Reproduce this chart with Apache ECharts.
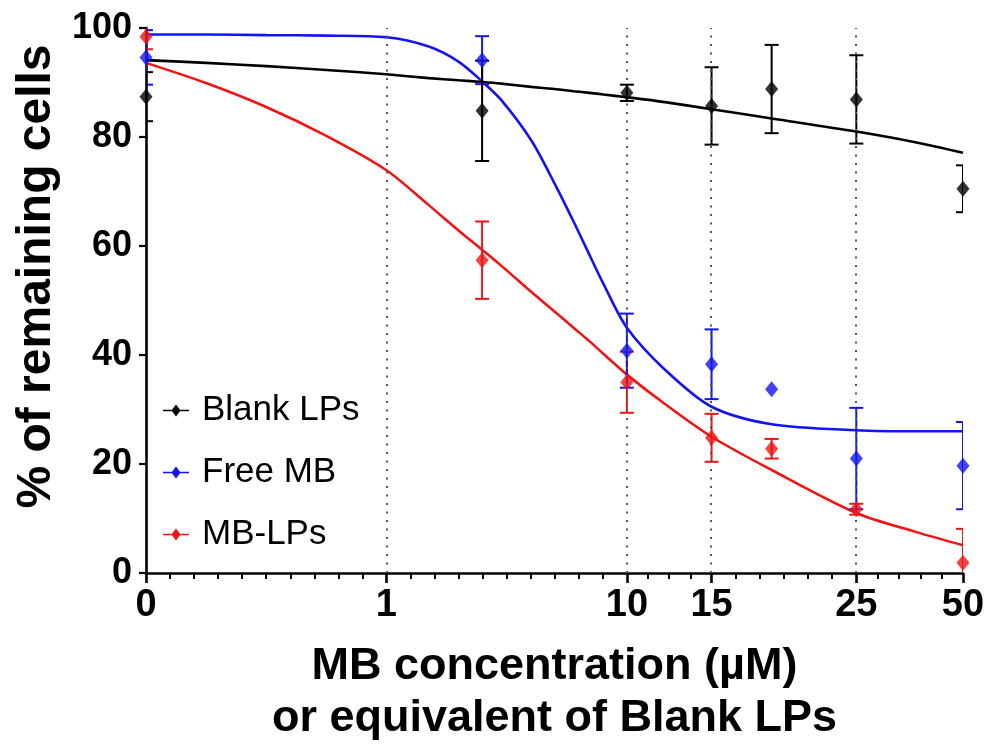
<!DOCTYPE html>
<html>
<head>
<meta charset="utf-8">
<script src="https://cdn.jsdelivr.net/npm/echarts@6/dist/echarts.min.js"></script>
<style>
html,body{margin:0;padding:0;background:#fff;}
#chart{width:989px;height:746px;}
</style>
</head>
<body>
<div id="chart"></div>
<script>
// ---------- data ----------
// Doses as placed on the segmented axis (the point under the "25" tick sits at the 30 position)
const doses = [0, 2.5, 10, 15, 20, 30, 50];
const blankMean = [87.4, 84.8, 88.1, 85.7, 88.8, 86.9, 70.5];
const blankSd   = [4.5, 9.2, 1.5, 7.1, 8.1, 8.1, 4.3];
const freeMean  = [94.6, 94.1, 40.8, 38.3, 33.7, 21.0, 19.7];
const freeSd    = [5.0, 4.4, 6.8, 6.4, null, 9.3, 8.0];
const lpMean    = [98.4, 57.4, 35.0, 24.8, 22.8, 11.7, 1.9];
const lpSd      = [2.3, 7.1, 5.6, 4.4, 1.8, 1.0, 6.2];

// fitted curves
const fitConc  = [0, 0.25, 0.5, 0.75, 1, 1.5, 2, 2.5, 3, 4, 5, 6, 7, 8, 10, 12, 15, 20, 30, 40, 50];
const blankFit = [94.1, 93.6, 93.0, 92.3, 91.5, 90.8, 90.4, 90.1, 89.8, 89.2, 88.8, 88.4, 88.1, 87.8, 87.3, 86.4, 85.1, 83.4, 81.0, 79.0, 77.1];
const freeFit  = [98.8, 98.8, 98.7, 98.6, 98.3, 96.6, 93.8, 90.2, 86.8, 79.4, 71.5, 64.5, 58.3, 53.0, 45.0, 37.3, 30.5, 27.3, 26.2, 26.0, 26.0];
const lpFit    = [93.6, 89.9, 85.5, 80.2, 73.9, 67.5, 62.8, 59.3, 56.4, 51.6, 48.0, 45.0, 42.5, 40.2, 36.4, 31.0, 25.0, 18.9, 11.0, 7.5, 5.1];

// x-axis ticks
const tickConc   = [0, 1, 10, 15, 30, 50];
const tickLabels = ['0', '1', '10', '15', '25', '50'];
const minorPerSegment = [10, 10, 4, 6, 5];

const seriesNames = ['Blank LPs', 'Free MB', 'MB-LPs'];
const colors = ['#000000', '#1414f0', '#f01414'];

// ---------- segmented axis scale ----------
function toU(c) {
  if (c <= 1) return c - 1;              // linear segment 0..1
  if (c <= 10) return Math.log10(c);      // log segment 1..10
  return 1 + 2 * Math.log10(c / 10);      // stretched log segment 10..50
}
const majorU = tickConc.map(toU);
const minorU = [];
for (let i = 0; i < majorU.length - 1; i++) {
  const n = minorPerSegment[i];
  for (let k = 1; k < n; k++) minorU.push(majorU[i] + (majorU[i + 1] - majorU[i]) * k / n);
}

const means = [blankMean, freeMean, lpMean];
const sds = [blankSd, freeSd, lpSd];
const fits = [blankFit, freeFit, lpFit];

const FONT = 'Liberation Sans';
const legendIcon = 'path://M0,5.3 L9,5.3 L13,0 L17,5.3 L26,5.3 L26,6.7 L17,6.7 L13,12 L9,6.7 L0,6.7 Z';

const series = [];
const order = [2, 1, 0];
order.forEach(i => {
  series.push({
    name: seriesNames[i],
    type: 'line',
    smooth: 0.3,
    showSymbol: false,
    symbol: 'diamond',
    data: fitConc.map((c, j) => [toU(c), fits[i][j]]),
    lineStyle: { width: 2.6, color: colors[i] },
    itemStyle: { color: colors[i] },
    z: 3,
    silent: true
  });
});
order.forEach(i => {
  const eb = [];
  doses.forEach((d, j) => {
    if (sds[i][j] != null) eb.push([toU(d), means[i][j] - sds[i][j], means[i][j] + sds[i][j]]);
  });
  series.push({
    type: 'custom',
    name: seriesNames[i] + ' err',
    clip: true,
    z: 4,
    silent: true,
    data: eb,
    encode: { x: 0, y: [1, 2] },
    renderItem: function (params, api) {
      const x = api.value(0);
      const lo = api.coord([x, api.value(1)]);
      const hi = api.coord([x, api.value(2)]);
      const w = 7;
      const st = { stroke: colors[i], lineWidth: 2 };
      return {
        type: 'group',
        children: [
          { type: 'line', shape: { x1: lo[0], y1: lo[1], x2: hi[0], y2: hi[1] }, style: st },
          { type: 'line', shape: { x1: hi[0] - w, y1: hi[1], x2: hi[0] + w, y2: hi[1] }, style: st },
          { type: 'line', shape: { x1: lo[0] - w, y1: lo[1], x2: lo[0] + w, y2: lo[1] }, style: st }
        ]
      };
    }
  });
});
order.forEach(i => {
  series.push({
    type: 'scatter',
    name: seriesNames[i] + ' pts',
    symbol: 'diamond',
    symbolSize: [13, 16],
    itemStyle: { color: colors[i] },
    data: doses.map((d, j) => [toU(d), means[i][j]]),
    z: 5,
    silent: true
  });
});
// dotted guide lines at the major ticks
series.push({
  type: 'line',
  name: 'guides',
  data: [],
  silent: true,
  z: 1,
  markLine: {
    silent: true,
    symbol: ['none', 'none'],
    label: { show: false },
    lineStyle: { type: [2, 6.5], color: '#555', width: 2 },
    data: majorU.slice(1).map(u => ({ xAxis: u }))
  }
});

const option = {
  animation: false,
  backgroundColor: '#fff',
  grid: { left: 146, right: 26, top: 28, bottom: 173, containLabel: false, outerBoundsMode: 'none' },
  legend: {
    orient: 'vertical',
    left: 163,
    top: 393,
    itemWidth: 26,
    itemHeight: 12,
    itemGap: 27,
    padding: 0,
    selectedMode: false,
    textStyle: { fontFamily: FONT, fontSize: 35, color: '#000', padding: [0, 0, 0, 8] },
    data: seriesNames.map(n => ({ name: n, icon: legendIcon }))
  },
  xAxis: [{
    type: 'value',
    min: majorU[0],
    max: majorU[majorU.length - 1],
    name: 'MB concentration (µM)\nor equivalent of Blank LPs',
    nameLocation: 'middle',
    nameGap: 68,
    nameTextStyle: { fontFamily: FONT, fontSize: 45, fontWeight: 'bold', color: '#000', lineHeight: 52 },
    axisLine: { show: true, onZero: false, lineStyle: { color: '#000', width: 2.6 } },
    axisTick: { show: true, length: 10, customValues: majorU, lineStyle: { color: '#000', width: 2.6 } },
    axisLabel: {
      show: true,
      customValues: majorU,
      margin: 14,
      fontFamily: FONT, fontSize: 38, fontWeight: 'bold', color: '#000',
      formatter: function (v) {
        for (let k = 0; k < majorU.length; k++) if (Math.abs(majorU[k] - v) < 1e-6) return tickLabels[k];
        return '';
      }
    },
    splitLine: { show: false }
  }, {
    type: 'value',
    gridIndex: 0,
    position: 'bottom',
    min: majorU[0],
    max: majorU[majorU.length - 1],
    axisLine: { show: false, onZero: false },
    axisTick: { show: true, length: 6, customValues: minorU, lineStyle: { color: '#000', width: 2 } },
    axisLabel: { show: false },
    splitLine: { show: false }
  }],
  yAxis: {
    type: 'value',
    min: 0,
    max: 100,
    interval: 20,
    name: '% of remaining cells',
    nameLocation: 'middle',
    nameGap: 82,
    nameTextStyle: { fontFamily: FONT, fontSize: 48, fontWeight: 'bold', color: '#000', padding: [0, 0, 0, 48] },
    axisLine: { show: true, onZero: false, lineStyle: { color: '#000', width: 2.6 } },
    axisTick: { show: true, length: 7, lineStyle: { color: '#000', width: 2.2 } },
    axisLabel: { margin: 14, fontFamily: FONT, fontSize: 36, fontWeight: 'bold', color: '#000' },
    splitLine: { show: false }
  },
  series: series
};

const chart = echarts.init(document.getElementById('chart'), null, { renderer: 'canvas' });
chart.setOption(option);
</script>
</body>
</html>
